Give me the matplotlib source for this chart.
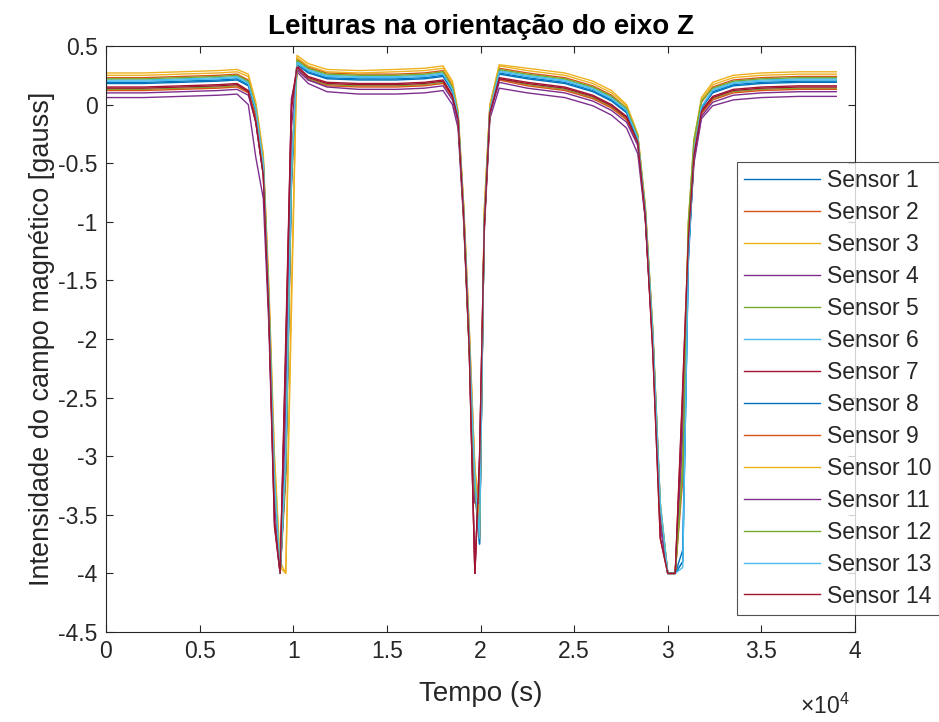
import matplotlib
matplotlib.use("Agg")
import matplotlib.pyplot as plt
from matplotlib.ticker import FuncFormatter, FixedLocator

plt.rcParams['font.family'] = ['Liberation Sans', 'DejaVu Sans']
plt.rcParams['axes.unicode_minus'] = False
plt.rcParams['mathtext.fontset'] = 'custom'
plt.rcParams['mathtext.rm'] = 'Liberation Sans'

title = "Leituras na orientação do eixo Z"
xlabel = "Tempo (s)"
ylabel = "Intensidade do campo magnético [gauss]"

time_s = [0, 2000, 4000, 6000, 7000, 7600, 8000, 8400, 8700, 9000,
          9300, 9600, 9900, 10200, 10800, 11800, 13500, 15500, 17000, 18000,
          18500, 18800, 19100, 19400, 19700, 19950, 20200, 20500, 21000, 22500,
          24500, 26000, 27000, 27800, 28400, 28800, 29200, 29600, 30000, 30400,
          30800, 31100, 31400, 31800, 32400, 33500, 35000, 37000, 39000]

sensor_1 = [0.18, 0.18, 0.19, 0.20, 0.21, 0.16, -0.06, -0.52, -1.7, -3.2, -4.0, -3.1, -0.6, 0.34, 0.27, 0.22, 0.21, 0.21, 0.22, 0.24, 0.11, -0.1, -0.92, -2.05, -3.3, -3.75, -1.0, -0.06, 0.26, 0.22, 0.18, 0.11, 0.03, -0.07, -0.3, -0.95, -2.0, -3.45, -4.0, -4.0, -3.8, -1.3, -0.42, -0.03, 0.10, 0.16, 0.18, 0.19, 0.19]
sensor_2 = [0.23, 0.23, 0.24, 0.25, 0.26, 0.21, -0.02, -0.48, -1.65, -3.15, -4.0, -3.2, -0.7, 0.39, 0.32, 0.27, 0.26, 0.26, 0.27, 0.29, 0.16, -0.08, -0.88, -1.95, -3.15, -3.6, -0.95, -0.02, 0.31, 0.27, 0.23, 0.16, 0.08, -0.03, -0.28, -0.9, -1.95, -3.45, -4.0, -4.0, -3.2, -1.1, -0.35, 0.02, 0.15, 0.21, 0.23, 0.24, 0.24]
sensor_3 = [0.27, 0.27, 0.28, 0.29, 0.30, 0.26, 0.02, -0.42, -1.55, -3.0, -3.9, -4.0, -1.8, 0.42, 0.35, 0.30, 0.29, 0.30, 0.31, 0.33, 0.20, -0.05, -0.85, -1.9, -3.1, -3.5, -0.9, 0.0, 0.34, 0.31, 0.27, 0.20, 0.12, 0.0, -0.25, -0.85, -1.9, -3.4, -4.0, -4.0, -2.9, -1.0, -0.3, 0.06, 0.19, 0.25, 0.27, 0.28, 0.28]
sensor_4 = [0.06, 0.06, 0.07, 0.08, 0.09, 0.0, -0.45, -0.8, -1.9, -3.6, -4.0, -2.2, 0.05, 0.28, 0.18, 0.11, 0.09, 0.09, 0.10, 0.12, 0.0, -0.2, -1.0, -2.1, -4.0, -3.0, -1.1, -0.12, 0.14, 0.10, 0.06, -0.01, -0.09, -0.2, -0.42, -0.98, -2.05, -3.6, -4.0, -4.0, -2.6, -1.25, -0.5, -0.12, -0.01, 0.04, 0.06, 0.07, 0.07]
sensor_5 = [0.13, 0.13, 0.14, 0.15, 0.16, 0.11, -0.1, -0.55, -1.75, -3.25, -4.0, -3.0, -0.5, 0.30, 0.22, 0.17, 0.16, 0.16, 0.17, 0.19, 0.07, -0.13, -0.95, -2.05, -3.25, -3.7, -1.05, -0.08, 0.22, 0.17, 0.13, 0.06, -0.02, -0.12, -0.33, -0.95, -2.0, -3.5, -4.0, -4.0, -3.1, -1.25, -0.45, -0.07, 0.05, 0.11, 0.13, 0.14, 0.14]
sensor_6 = [0.21, 0.21, 0.22, 0.23, 0.24, 0.19, -0.04, -0.5, -1.7, -3.2, -4.0, -3.0, -0.6, 0.37, 0.30, 0.25, 0.24, 0.24, 0.25, 0.27, 0.14, -0.09, -0.9, -2.0, -3.2, -3.65, -1.0, -0.04, 0.29, 0.25, 0.21, 0.14, 0.06, -0.04, -0.28, -0.9, -1.95, -3.4, -4.0, -4.0, -3.9, -1.3, -0.4, -0.02, 0.13, 0.19, 0.21, 0.22, 0.22]
sensor_7 = [0.15, 0.15, 0.16, 0.17, 0.18, 0.12, -0.15, -0.6, -1.8, -3.6, -4.0, -2.0, 0.0, 0.33, 0.24, 0.19, 0.18, 0.18, 0.19, 0.21, 0.08, -0.12, -0.95, -2.1, -4.0, -3.0, -1.05, -0.07, 0.23, 0.19, 0.15, 0.08, 0.0, -0.1, -0.32, -0.95, -2.1, -3.7, -4.0, -4.0, -2.4, -1.15, -0.42, -0.05, 0.07, 0.13, 0.15, 0.16, 0.16]
sensor_8 = [0.19, 0.19, 0.20, 0.21, 0.22, 0.17, -0.05, -0.5, -1.7, -3.2, -4.0, -3.1, -0.7, 0.36, 0.28, 0.23, 0.22, 0.22, 0.23, 0.25, 0.12, -0.1, -0.9, -2.0, -3.25, -3.75, -1.0, -0.05, 0.27, 0.23, 0.19, 0.12, 0.04, -0.06, -0.3, -0.92, -1.98, -3.45, -4.0, -4.0, -3.9, -1.35, -0.42, -0.03, 0.11, 0.17, 0.19, 0.20, 0.20]
sensor_9 = [0.12, 0.12, 0.13, 0.14, 0.15, 0.10, -0.1, -0.55, -1.75, -3.3, -4.0, -3.0, -0.55, 0.30, 0.21, 0.16, 0.15, 0.15, 0.16, 0.18, 0.06, -0.13, -0.92, -2.05, -3.3, -3.7, -1.0, -0.07, 0.21, 0.16, 0.12, 0.05, -0.03, -0.13, -0.33, -0.95, -2.0, -3.5, -4.0, -4.0, -3.0, -1.2, -0.45, -0.08, 0.04, 0.10, 0.12, 0.13, 0.13]
sensor_10 = [0.25, 0.25, 0.26, 0.27, 0.28, 0.24, 0.0, -0.45, -1.6, -3.05, -3.95, -4.0, -1.6, 0.40, 0.33, 0.28, 0.27, 0.28, 0.29, 0.31, 0.18, -0.06, -0.85, -1.92, -3.1, -3.52, -0.9, -0.01, 0.33, 0.29, 0.25, 0.18, 0.10, -0.01, -0.26, -0.87, -1.92, -3.4, -4.0, -4.0, -2.9, -1.05, -0.32, 0.04, 0.17, 0.23, 0.25, 0.26, 0.26]
sensor_11 = [0.10, 0.10, 0.11, 0.12, 0.13, 0.08, -0.15, -0.6, -1.8, -3.4, -4.0, -2.6, -0.2, 0.30, 0.21, 0.15, 0.13, 0.13, 0.14, 0.16, 0.04, -0.15, -0.95, -2.05, -3.4, -3.4, -1.05, -0.08, 0.19, 0.14, 0.10, 0.03, -0.05, -0.15, -0.35, -0.96, -2.02, -3.55, -4.0, -4.0, -2.8, -1.2, -0.47, -0.1, 0.02, 0.08, 0.10, 0.11, 0.11]
sensor_12 = [0.22, 0.22, 0.23, 0.24, 0.25, 0.20, -0.03, -0.5, -1.68, -3.2, -4.0, -3.1, -0.65, 0.38, 0.31, 0.26, 0.25, 0.25, 0.26, 0.28, 0.15, -0.08, -0.95, -2.1, -3.3, -3.65, -1.0, -0.04, 0.30, 0.26, 0.22, 0.15, 0.07, -0.03, -0.27, -0.88, -1.93, -3.42, -4.0, -4.0, -3.1, -1.0, -0.3, 0.03, 0.14, 0.20, 0.22, 0.23, 0.23]
sensor_13 = [0.20, 0.20, 0.21, 0.22, 0.23, 0.18, -0.04, -0.5, -1.7, -3.2, -4.0, -3.0, -0.6, 0.36, 0.29, 0.24, 0.23, 0.23, 0.24, 0.26, 0.13, -0.09, -0.9, -2.0, -3.2, -3.7, -1.0, -0.05, 0.28, 0.24, 0.20, 0.13, 0.05, -0.05, -0.29, -0.9, -1.95, -3.4, -4.0, -4.0, -3.95, -1.3, -0.4, -0.02, 0.12, 0.18, 0.20, 0.21, 0.21]
sensor_14 = [0.14, 0.14, 0.15, 0.16, 0.17, 0.11, -0.15, -0.6, -1.8, -3.55, -4.0, -2.1, -0.05, 0.32, 0.23, 0.18, 0.17, 0.17, 0.18, 0.20, 0.07, -0.12, -0.95, -2.1, -4.0, -3.05, -1.05, -0.07, 0.22, 0.18, 0.14, 0.07, -0.01, -0.11, -0.32, -0.95, -2.1, -3.7, -4.0, -4.0, -2.45, -1.15, -0.43, -0.06, 0.06, 0.12, 0.14, 0.15, 0.15]

sensor_labels = ["Sensor %d" % i for i in range(1, 15)]
sensor_series = [sensor_1, sensor_2, sensor_3, sensor_4, sensor_5, sensor_6, sensor_7,
                 sensor_8, sensor_9, sensor_10, sensor_11, sensor_12, sensor_13, sensor_14]

x_ticks = [0, 5000, 10000, 15000, 20000, 25000, 30000, 35000, 40000]
y_ticks = [0.5, 0, -0.5, -1, -1.5, -2, -2.5, -3, -3.5, -4, -4.5]

colors = ['#0072BD', '#D95319', '#EDB120', '#7E2F8E', '#77AC30', '#4DBEEE', '#A2142F']

W, H = 939, 722
fig = plt.figure(figsize=(W / 100, H / 100), dpi=100)
ax = fig.add_axes([106 / W, 1 - 632 / H, (855 - 106) / W, (632 - 46) / H])

for i, (lab, vals) in enumerate(zip(sensor_labels, sensor_series)):
    ax.plot(time_s, vals, color=colors[i % 7], lw=1.0, label=lab)

tc = '#262626'
ax.set_xlim(0, 40000)
ax.set_ylim(-4.5, 0.5)
ax.xaxis.set_major_locator(FixedLocator(x_ticks))
ax.yaxis.set_major_locator(FixedLocator(y_ticks))
ax.xaxis.set_major_formatter(FuncFormatter(lambda v, p: ('%g' % (v / 1e4))))
ax.yaxis.set_major_formatter(FuncFormatter(lambda v, p: ('%g' % v)))
ax.tick_params(direction='in', top=True, right=True, length=5, width=0.8,
               labelsize=16.5, colors=tc, labelcolor=tc, pad=6)
for s in ax.spines.values():
    s.set_color(tc)
    s.set_linewidth(0.8)

ax.set_title(title, fontsize=20, fontweight='bold', color='black', pad=9)
ax.set_xlabel(xlabel, fontsize=20, color=tc, labelpad=13)
ax.set_ylabel(ylabel, fontsize=19.5, color=tc, labelpad=2)
fig.text(850 / W, 1 - 706 / H, r'$\times$10$^{4}$', fontsize=16.5, color=tc,
         ha='right', va='center')

leg = fig.legend(loc='upper left', bbox_to_anchor=(737 / W, 1 - 162 / H),
                 fontsize=16.5, frameon=True, fancybox=False, handlelength=3.3,
                 handletextpad=0.3, labelspacing=0.39, borderpad=0.32,
                 borderaxespad=0)
leg.get_frame().set_edgecolor(tc)
leg.get_frame().set_linewidth(0.8)
for t in leg.get_texts():
    t.set_color(tc)

fig.savefig('out.png', dpi=100)
